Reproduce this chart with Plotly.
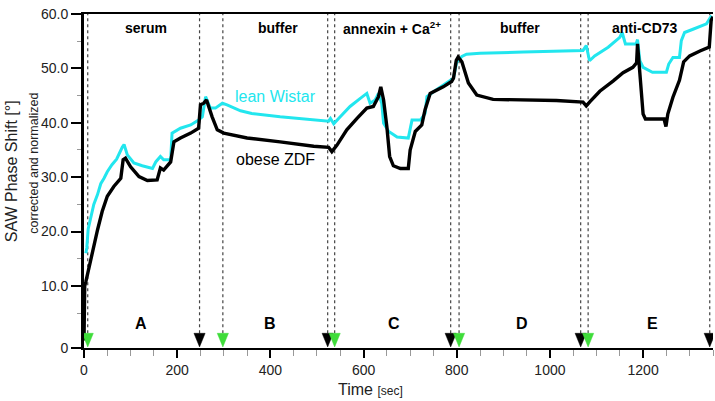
import plotly.graph_objects as go

# ---------------- data ----------------
zdf_time = [0, 1.5, 4, 7, 14, 21, 29, 39, 50, 64, 79, 84, 89, 100, 118, 136, 157, 164, 171,
            186, 193, 207, 229, 246, 250, 257, 263, 275, 286, 300, 336, 350, 421, 493, 525,
            532, 543, 564, 586, 607, 621, 632, 637, 643, 650, 656, 664, 679, 696, 700, 711,
            725, 732, 743, 771, 789, 793, 799, 803, 811, 825, 843, 878, 943, 1014, 1071,
            1078, 1086, 1107, 1136, 1157, 1178, 1186, 1188, 1191, 1196, 1200, 1205, 1245,
            1249, 1253, 1264, 1278, 1287, 1300, 1322, 1342, 1346, 1350]
zdf_shift = [0, 10.0, 10.8, 12.0, 14.5, 17.3, 20.3, 23.7, 26.5, 28.3, 29.8, 33.2, 33.5, 31.9,
             30.1, 29.4, 29.5, 31.7, 31.3, 32.8, 36.5, 37.2, 38.1, 39.0, 43.3, 43.6, 44.2,
             41.1, 38.7, 38.1, 37.4, 37.2, 36.5, 35.7, 35.5, 34.7, 35.9, 38.7, 40.8, 42.7,
             43.0, 44.8, 46.6, 44.2, 39.3, 33.8, 32.1, 31.6, 31.6, 35.0, 38.4, 39.6, 42.4,
             45.4, 46.6, 47.6, 48.2, 51.5, 52.1, 51.2, 47.3, 45.1, 44.3, 44.2, 44.1, 43.8,
             43.1, 43.9, 45.8, 47.7, 49.2, 50.2, 51.0, 54.5, 51.0, 45.0, 41.6, 40.7, 40.7,
             39.3, 41.6, 44.7, 47.8, 51.2, 52.3, 53.2, 53.9, 58.8, 59.5]

wistar_time = [4, 6, 9, 14, 21, 29, 36, 43, 50, 60, 70, 82, 86, 93, 107, 125, 147, 154, 164,
               171, 186, 189, 207, 229, 246, 254, 261, 271, 282, 297, 307, 336, 360, 421, 493,
               525, 529, 536, 550, 571, 593, 607, 614, 625, 632, 639, 643, 654, 672, 696, 704,
               722, 732, 736, 750, 771, 793, 800, 811, 821, 850, 943, 1020, 1071, 1078, 1085,
               1096, 1125, 1150, 1155, 1162, 1185, 1188, 1193, 1200, 1220, 1250, 1255, 1264,
               1278, 1282, 1289, 1307, 1336, 1347]
wistar_shift = [16.0, 17.0, 20.5, 22.5, 25.0, 26.8, 28.8, 29.8, 31.0, 32.3, 33.3, 35.5, 36.0,
                34.1, 32.6, 32.1, 31.6, 32.8, 33.8, 33.2, 33.2, 38.1, 39.0, 39.6, 40.5, 41.1,
                44.8, 42.7, 42.7, 43.6, 43.3, 42.2, 41.7, 41.1, 40.5, 40.3, 40.8, 39.8, 41.1,
                43.0, 44.5, 45.4, 43.6, 44.2, 45.4, 43.6, 39.9, 38.4, 37.4, 37.2, 40.5, 40.5,
                41.7, 44.8, 45.7, 46.9, 48.2, 51.2, 52.2, 52.6, 52.8, 53.0, 53.2, 53.3, 54.2,
                51.4, 52.3, 53.9, 55.7, 56.6, 54.5, 54.5, 55.3, 51.4, 50.2, 49.3, 49.3, 50.8,
                52.0, 52.0, 55.1, 56.6, 57.2, 58.2, 59.7]

# injection start (green) and end (black) times
start_times = [8, 298, 538, 805, 1082]
end_times = [248, 523, 787, 1066, 1343]

phase_names = ["serum", "buffer", "annexin + Ca<sup>2+</sup>", "buffer", "anti-CD73"]
phase_name_times = [132, 416, 662, 936, 1204]
phase_letters = ["A", "B", "C", "D", "E"]
phase_letter_times = [122, 400, 665, 940, 1220]

x_tick_vals = [0, 200, 400, 600, 800, 1000, 1200]
x_tick_text = ["0", "200", "400", "600", "800", "1000", "1200"]
y_tick_vals = [-1.4, 10, 20, 30, 40, 50, 60]
y_tick_text = ["0", "10.0", "20.0", "30.0", "40.0", "50.0", "60.0"]
y_minor_vals = [5, 15, 25, 35, 45, 55]

X_MAX = 1350
Y_MIN, Y_MAX = -1.4, 60
TRI_TOP, TRI_TIP, TRI_HALF = 1.3, -1.2, 12
LABEL_Y, LETTER_Y = 57.5, 3.1

FONT = "Liberation Sans, Arial, sans-serif"
CYAN = "#22e6ee"
GREEN = "#3fdc3a"

fig = go.Figure()

# dashed event lines
dx, dy = [], []
for t in start_times + end_times:
    dx += [t, t, None]
    dy += [TRI_TOP, Y_MAX, None]
fig.add_trace(go.Scatter(x=dx, y=dy, mode="lines",
                         line=dict(color="#444444", width=1.2, dash="3px,3px"),
                         hoverinfo="skip", showlegend=False))

# curves
fig.add_trace(go.Scatter(x=wistar_time, y=wistar_shift, mode="lines",
                         line=dict(color=CYAN, width=3), showlegend=False))
fig.add_trace(go.Scatter(x=zdf_time, y=zdf_shift, mode="lines",
                         line=dict(color="black", width=3.4), showlegend=False))

# triangles
def tri_trace(times, color):
    tx, ty = [], []
    for t in times:
        tx += [t - TRI_HALF, t + TRI_HALF, t, t - TRI_HALF, None]
        ty += [TRI_TOP, TRI_TOP, TRI_TIP, TRI_TOP, None]
    return go.Scatter(x=tx, y=ty, mode="lines", fill="toself", fillcolor=color,
                      line=dict(color=color, width=0.5), hoverinfo="skip",
                      showlegend=False)

fig.add_trace(tri_trace(end_times, "black"))
fig.add_trace(tri_trace(start_times, GREEN))

ann = []
for name, t in zip(phase_names, phase_name_times):
    ann.append(dict(x=t, y=LABEL_Y, text="<b>%s</b>" % name, showarrow=False,
                    font=dict(family=FONT, size=14, color="black"),
                    xanchor="center", yanchor="middle"))
for name, t in zip(phase_letters, phase_letter_times):
    ann.append(dict(x=t, y=LETTER_Y, text="<b>%s</b>" % name, showarrow=False,
                    font=dict(family=FONT, size=16, color="black"),
                    xanchor="center", yanchor="middle"))
ann.append(dict(x=411, y=44.8, text="lean Wistar", showarrow=False,
                font=dict(family=FONT, size=16, color=CYAN),
                xanchor="center", yanchor="middle"))
ann.append(dict(x=412, y=33.2, text="obese ZDF", showarrow=False,
                font=dict(family=FONT, size=16, color="black"),
                xanchor="center", yanchor="middle"))
# axis titles
ann.append(dict(x=-0.114, y=0.53, xref="paper", yref="paper", text="SAW Phase Shift [°]",
                textangle=-90, showarrow=False,
                font=dict(family=FONT, size=16, color="#222"),
                xanchor="center", yanchor="middle"))
ann.append(dict(x=-0.080, y=0.554, xref="paper", yref="paper",
                text="corrected and normalized", textangle=-90, showarrow=False,
                font=dict(family=FONT, size=12.5, color="#222"),
                xanchor="center", yanchor="middle"))
ann.append(dict(x=0.456, y=-0.123, xref="paper", yref="paper",
                text="Time <span style='font-size:12px'>[sec]</span>", showarrow=False,
                font=dict(family=FONT, size=16, color="#222"),
                xanchor="center", yanchor="middle"))

fig.update_layout(
    width=715, height=401,
    margin=dict(l=84, r=2, t=14, b=53),
    paper_bgcolor="white", plot_bgcolor="white",
    annotations=ann,
    xaxis=dict(range=[0, X_MAX], showgrid=False, zeroline=False,
               showline=True, linecolor="black", linewidth=2, mirror=True,
               tickmode="array", tickvals=x_tick_vals, ticktext=x_tick_text,
               ticks="outside", ticklen=8, tickwidth=2, tickcolor="black",
               minor=dict(dtick=50, tick0=0, ticks="outside", ticklen=6,
                          tickwidth=1, tickcolor="#999999"),
               tickfont=dict(family=FONT, size=14, color="#222")),
    yaxis=dict(range=[Y_MIN, Y_MAX], showgrid=False, zeroline=False,
               showline=True, linecolor="black", linewidth=3,
               tickmode="array", tickvals=y_tick_vals, ticktext=y_tick_text,
               ticks="outside", ticklen=10, tickwidth=2, tickcolor="black",
               minor=dict(tickmode="array", tickvals=y_minor_vals, ticks="outside",
                          ticklen=4, tickwidth=1, tickcolor="#999999"),
               tickfont=dict(family=FONT, size=14, color="#222")),
)

fig.write_html("out.html", config={"displayModeBar": False},
               post_script="document.body.style.margin='0';document.body.style.overflow='hidden';")
